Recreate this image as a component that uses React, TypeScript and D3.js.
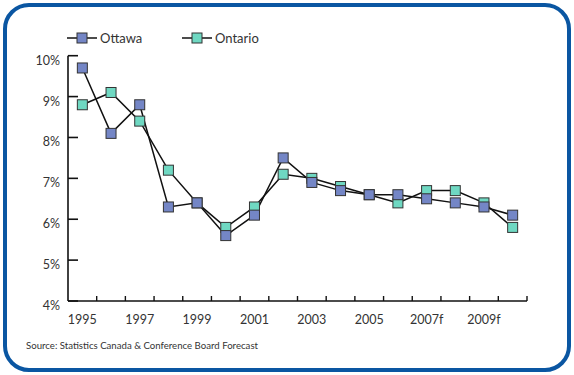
import React from "react";
import * as d3 from "d3";

const years = ["1995","1996","1997","1998","1999","2000","2001","2002","2003","2004","2005","2006","2007","2008","2009","2010"];
const yearLabels = ["1995","","1997","","1999","","2001","","2003","","2005","","2007f","","2009f",""];
const ottawa = [9.7, 8.1, 8.8, 6.3, 6.4, 5.6, 6.1, 7.5, 6.9, 6.7, 6.6, 6.6, 6.5, 6.4, 6.3, 6.1];
const ontario = [8.8, 9.1, 8.4, 7.2, 6.4, 5.8, 6.3, 7.1, 7.0, 6.8, 6.6, 6.4, 6.7, 6.7, 6.4, 5.8];
const yTicks = [4, 5, 6, 7, 8, 9, 10];
const seriesNames = ["Ottawa", "Ontario"];
const seriesColors = ["#7486c6", "#6fd8c2"];

const W = 574, H = 375;
const FONT = "Lato, 'Open Sans', sans-serif";

export default function App() {
  const x = d3.scaleBand<string>().domain(years).range([68, 527]).padding(0);
  const y = d3.scaleLinear().domain([4, 10]).range([301, 55.7]);
  const cx = (yr: string) => (x(yr) as number) + x.bandwidth() / 2;
  const line = d3.line<number>().x((_, i) => cx(years[i])).y((d) => y(d));
  const series = [ottawa, ontario];
  const ms = 10;
  const drawOrder = [1, 0];
  return (
    <svg width={W} height={H} style={{ position: "absolute", left: 0, top: 0 }} fontFamily={FONT}>
      <rect x={5} y={5} width={564} height={365} rx={24} ry={24} fill="#fff" stroke="#0a56a2" strokeWidth={4} />
      {/* legend */}
      {seriesNames.map((n, i) => {
        const lx = i === 0 ? 67 : 182;
        const ly = 38;
        return (
          <g key={n}>
            <line x1={lx} x2={lx + 30} y1={ly} y2={ly} stroke="#111" strokeWidth={1.5} />
            <rect x={lx + 15 - 5} y={ly - 5} width={10} height={10} fill={seriesColors[i]} stroke="#333" strokeWidth={1} />
            <text x={lx + 33} y={ly + 5} fontSize={13} fill="#333">{n}</text>
          </g>
        );
      })}
      {/* axes */}
      <line x1={68} x2={68} y1={y(10)} y2={y(4)} stroke="#111" strokeWidth={1.6} />
      <line x1={68} x2={527} y1={y(4)} y2={y(4)} stroke="#111" strokeWidth={1.6} />
      {yTicks.map((t) => (
        <g key={t}>
          <line x1={68} x2={78} y1={y(t)} y2={y(t)} stroke="#111" strokeWidth={1.6} />
          <text x={60} y={y(t) + 9} fontSize={12.5} textAnchor="end" fill="#333">{t}%</text>
        </g>
      ))}
      {years.map((yr, i) => (
        <g key={yr}>
          {i > 0 && <line x1={x(yr) as number} x2={x(yr) as number} y1={y(4)} y2={y(4) - 5} stroke="#111" strokeWidth={1.4} />}
          {yearLabels[i] && <text x={cx(yr)} y={324} fontSize={12.5} textAnchor="middle" fill="#333">{yearLabels[i]}</text>}
        </g>
      ))}
      <line x1={527} x2={527} y1={y(4)} y2={y(4) - 5} stroke="#111" strokeWidth={1.4} />
      {/* lines */}
      {series.map((s, i) => (
        <path key={i} d={line(s) as string} fill="none" stroke="#111" strokeWidth={1.5} />
      ))}
      {/* markers */}
      {drawOrder.map((si) => (
        <g key={si}>
          {series[si].map((v, i) => (
            <rect key={i} x={cx(years[i]) - ms / 2} y={y(v) - ms / 2} width={ms} height={ms} fill={seriesColors[si]} stroke="#333" strokeWidth={1} />
          ))}
        </g>
      ))}
      <text x={26} y={349} fontSize={10} fill="#333" textLength={232} lengthAdjust="spacingAndGlyphs">Source: Statistics Canada &amp; Conference Board Forecast</text>
    </svg>
  );
}
